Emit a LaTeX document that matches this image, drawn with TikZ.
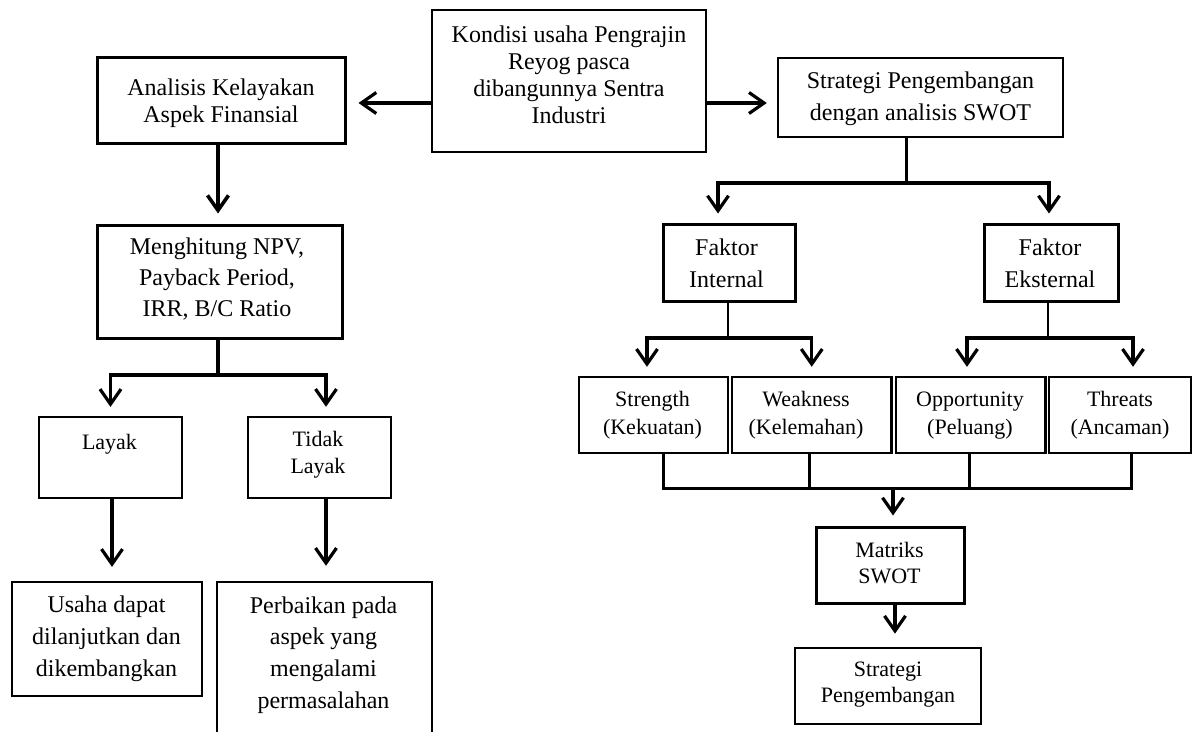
\documentclass[tikz,border=0pt]{standalone}
\usepackage{fontspec}
\setmainfont{Liberation Serif}
\usetikzlibrary{arrows.meta,calc}
\begin{document}
\begin{tikzpicture}[x=1pt,y=-1pt,
  box/.style={draw, line width=2.4pt, inner sep=0pt},
  txt/.style={align=center, inner sep=0pt},
  big/.style={font=\fontsize{24}{#1}\selectfont},
  sml/.style={font=\fontsize{22}{#1}\selectfont},
  conn/.style={line width=3pt},
  thinconn/.style={line width=1.4pt},
  arr/.style={line width=3.2pt, -{Straight Barb[length=15pt,width=21pt]}},
]
\useasboundingbox (0,0) rectangle (1194,731);
\clip (0,0) rectangle (1194,731);

% ---------- boxes ----------
\node[box, line width=2.2pt, minimum width=274pt, minimum height=142pt] (kondisi) at (569,81) {};
\node[box, line width=3pt, minimum width=248pt, minimum height=86pt] (analisis) at (221,100) {};
\node[box, line width=3pt, minimum width=245pt, minimum height=113pt] (menghitung) at (219.5,281.5) {};
\node[box, line width=2.2pt, minimum width=143pt, minimum height=81pt] (layak) at (110.5,457.5) {};
\node[box, minimum width=143pt, minimum height=81pt] (tidak) at (319.5,457.5) {};
\node[box, line width=2.2pt, minimum width=190pt, minimum height=114pt] (usaha) at (107,639) {};
\node[box, minimum width=215pt, minimum height=178pt] (perbaikan) at (324.5,671) {};
\node[box, minimum width=285pt, minimum height=79pt] (swot) at (920.5,97.5) {};
\node[box, line width=3pt, minimum width=132pt, minimum height=77pt] (internal) at (729,262.5) {};
\node[box, line width=3pt, minimum width=134pt, minimum height=77pt] (eksternal) at (1051,262.5) {};
\node[box, minimum width=149pt, minimum height=76pt] (strength) at (653.5,415) {};
\node[box, minimum width=159.5pt, minimum height=76pt] (weakness) at (811.75,415) {};
\node[box, minimum width=149.5pt, minimum height=76pt] (opportunity) at (970.75,415) {};
\node[box, minimum width=142pt, minimum height=76pt] (threats) at (1120,415) {};
\node[box, line width=3pt, minimum width=148pt, minimum height=76pt] (matriks) at (890,565) {};
\node[box, line width=2.7pt, minimum width=186pt, minimum height=76pt] (strategiP) at (888,686) {};

% ---------- texts ----------
\node[txt, big=27] (kondisiT) at (569,75) {Kondisi usaha Pengrajin\\Reyog pasca\\dibangunnya Sentra\\Industri};
\node[txt, big=27] (analisisT) at (221,103) {Analisis Kelayakan\\Aspek Finansial};
\node[txt, big=31] (menghitungT) at (217,279.5) {Menghitung NPV,\\Payback Period,\\IRR, B/C Ratio};
\node[txt, sml=27] (layakT) at (109.5,444) {Layak};
\node[txt, sml=27] (tidakT) at (318,454.5) {Tidak\\Layak};
\node[txt, big=32] (usahaT) at (106.5,639) {Usaha dapat\\dilanjutkan dan\\dikembangkan};
\node[txt, big=31.7] (perbaikanT) at (323.5,655) {Perbaikan pada\\aspek yang\\mengalami\\permasalahan};
\node[txt, big=32] (swotT) at (920.5,99) {Strategi Pengembangan\\dengan analisis SWOT};
\node[txt, big=32] (internalT) at (726.5,263) {Faktor\\Internal};
\node[txt, big=32] (eksternalT) at (1050,263) {Faktor\\Eksternal};
\node[txt, sml=28] (strengthT) at (652.5,415.5) {Strength\\(Kekuatan)};
\node[txt, sml=28] (weaknessT) at (806,415.5) {Weakness\\(Kelemahan)};
\node[txt, sml=28] (opportunityT) at (970,415.5) {Opportunity\\(Peluang)};
\node[txt, sml=28] (threatsT) at (1120,415.5) {Threats\\(Ancaman)};
\node[txt, sml=26] (matriksT) at (889.5,563) {Matriks\\SWOT};
\node[txt, sml=26] (strategiPT) at (888,685) {Strategi\\Pengembangan};

% ---------- connectors ----------
% top level
\draw[arr, shorten >=12pt] (kondisi.west |- 0,103) -- (analisis.east |- 0,103);
\draw[arr, shorten >=10pt] (kondisi.east |- 0,103) -- (swot.west |- 0,103);

% left column
\draw[arr, line width=3.6pt, shorten >=10pt] ([xshift=-3pt]analisis.south) -- ([xshift=-3pt]analisis.south |- menghitung.north);
\coordinate (mb) at (218,375);
\draw[conn, line width=3.4pt] ([xshift=-1.5pt]menghitung.south) -- (mb);
\draw[arr, shorten >=9pt] (mb) -| (layak.north);
\draw[arr, shorten >=9pt] (mb) -| ([xshift=6.5pt]tidak.north);
\draw[arr, shorten >=14pt] ([xshift=1.5pt]layak.south) -- ([xshift=1.5pt]layak.south |- usaha.north);
\draw[arr, shorten >=15pt] ([xshift=6.5pt]tidak.south) -- ([xshift=6.5pt]tidak.south |- perbaikan.north);

% right column
\coordinate (sb) at (906,183);
\draw[conn] (sb |- swot.south) -- (sb);
\draw[arr, shorten >=9pt] (sb) -| ([xshift=-11pt]internal.north);
\draw[arr, shorten >=9pt] (sb) -| ([xshift=-2pt]eksternal.north);

\coordinate (ib) at (728,338);
\draw[thinconn] ([xshift=-1pt]internal.south) -- (ib);
\draw[arr, shorten >=9pt] (ib) -| ([xshift=-6.5pt]strength.north);
\draw[arr, shorten >=9pt] (ib) -| (weakness.north);

\coordinate (eb) at (1048,338);
\draw[conn, line width=2pt] ([xshift=-3pt]eksternal.south) -- (eb);
\draw[arr, shorten >=9pt] (eb) -| ([xshift=-3.75pt]opportunity.north);
\draw[arr, shorten >=9pt] (eb) -| ([xshift=13pt]threats.north);

\coordinate (cl) at (663.5,488);
\coordinate (cr) at (1131,488);
\draw[conn] ([xshift=10pt]strength.south) -- (cl) -- (cr) -- ([xshift=11pt]threats.south);
\draw[conn] ([xshift=-2pt]weakness.south) -- ([xshift=-2pt]weakness.south |- cl);
\draw[conn] ([xshift=-1.75pt]opportunity.south) -- ([xshift=-1.75pt]opportunity.south |- cl);
\draw[arr, shorten >=10pt] ([xshift=3pt]matriks.north |- cl) -- ([xshift=3pt]matriks.north);
\draw[arr, shorten >=13pt] ([xshift=5pt]matriks.south) -- ([xshift=5pt]matriks.south |- strategiP.north);
\end{tikzpicture}
\end{document}
